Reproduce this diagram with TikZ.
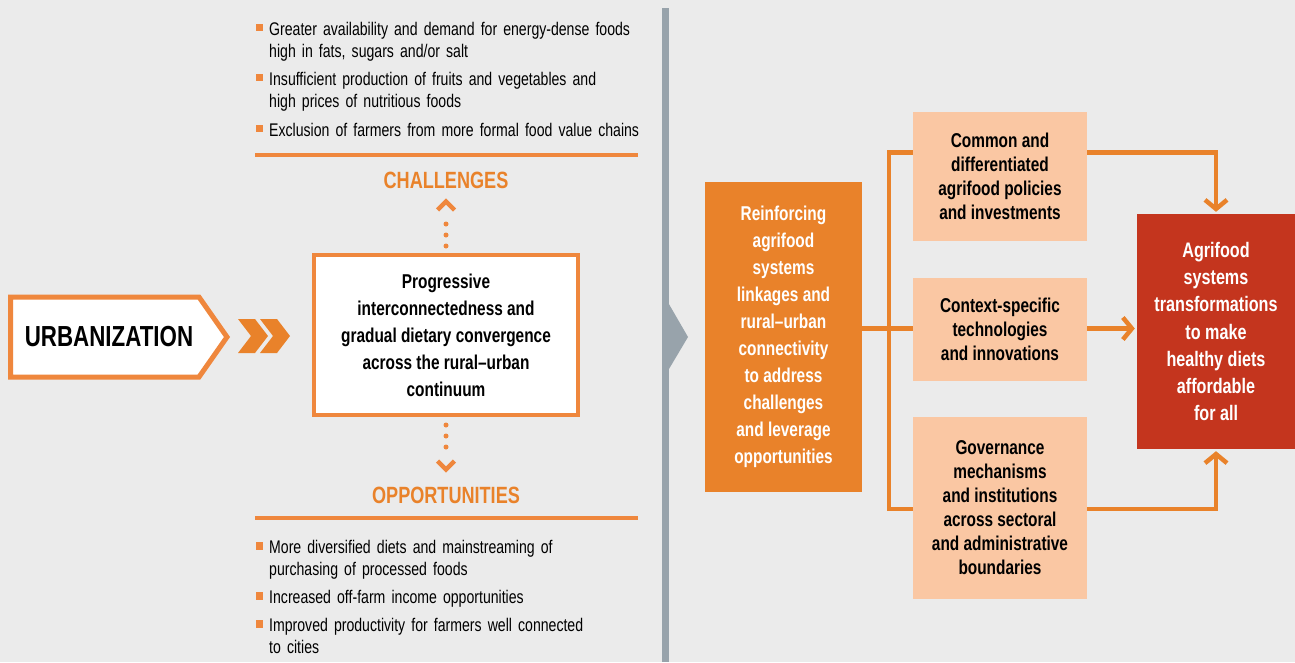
\documentclass[tikz,border=0pt]{standalone}
\usepackage{fontspec}
\setmainfont{Liberation Sans}[FakeStretch=0.77]
\usetikzlibrary{arrows.meta}
\definecolor{bg}{HTML}{EBEBEB}
\definecolor{orA}{HTML}{E9822A}
\definecolor{orB}{HTML}{EF873D}
\definecolor{peach}{HTML}{FAC7A3}
\definecolor{redbox}{HTML}{C4351E}
\definecolor{grayline}{HTML}{98A3AB}
\begin{document}
\begin{tikzpicture}[x=1pt,y=-1pt,
  bodytext/.style={font=\fontsize{18.3}{22}\selectfont, text width=400pt, align=left, inner sep=0pt, anchor=base west, text=black},
  bulletsq/.style={fill=orB, minimum size=7.5pt, inner sep=0pt},
  headtext/.style={font=\fontsize{23.5}{26}\selectfont\bfseries, text=orA, inner sep=0pt},
  boxtext/.style={font=\fontsize{20}{27}\selectfont\bfseries, align=center, inner sep=0pt},
  peachbox/.style={fill=peach, minimum width=174pt, inner sep=0pt, boxtext, font=\fontsize{20}{24}\selectfont\bfseries},
  conn/.style={draw=orA, line width=4.5pt},
  connarrow/.style={conn, -{Straight Barb[length=9pt,width=22pt]}, shorten >=2pt},
  dotline/.style={draw=orB, line width=5pt, line cap=round, dash pattern=on 0pt off 11pt},
  chev/.style={draw=orB, line width=4.5pt, miter limit=10}
]
\useasboundingbox (0,0) rectangle (1295,662);
\fill[bg] (0,0) rectangle (1295,662);

% divider
\draw[grayline, line width=6.5pt] (665.5,8) -- (665.5,662);
\fill[grayline] (666,299) -- (688,337) -- (666,374) -- cycle;

% urbanization
\filldraw[draw=orB, fill=white, line width=5pt] (10.5,297) -- (199,297) -- (227,337) -- (199,377) -- (10.5,377) -- cycle;
\node[font=\fontsize{29}{34}\selectfont\bfseries, inner sep=0pt] (urb) at (109,337) {URBANIZATION};

% double chevron
\fill[orA] (238,319) -- (255,319) -- (268,336) -- (255,353) -- (238,353) -- (251,336) -- cycle;
\fill[orA] (260,319) -- (277,319) -- (290,336) -- (277,353) -- (260,353) -- (273,336) -- cycle;

% center box
\node[draw=orB, line width=4pt, fill=white, minimum width=264pt, minimum height=160pt, boxtext] (cb) at (446,335)
  {Progressive\\interconnectedness and\\gradual dietary convergence\\across the rural--urban\\continuum};

% dotted connectors
\draw[dotline] ([yshift=7pt]cb.north) -- ++(0,-33);
\draw[chev] (437.5,210) -- (446,201.5) -- (454.5,210);
\draw[dotline] ([yshift=-8pt]cb.south) -- ++(0,33);
\draw[chev] (437.5,461) -- (446,469.5) -- (454.5,461);

\node[headtext] (chal) at (446,180) {CHALLENGES};
\node[headtext] (opp) at (446,495) {OPPORTUNITIES};

\draw[orB, line width=4pt] (255,155) -- (638,155);
\draw[orB, line width=4pt] (255,517.5) -- (638,517.5);

% challenges bullets
\node[bulletsq] (s1) at (259.5,27.5) {};
\node[bodytext] (c1) at (269,35) {Greater availability and demand for energy-dense foods\\high in fats, sugars and/or salt};
\node[bulletsq] (s2) at (259.5,77.5) {};
\node[bodytext] (c2) at (269,85) {Insufficient production of fruits and vegetables and\\high prices of nutritious foods};
\node[bulletsq] (s3) at (259.5,128.5) {};
\node[bodytext] (c3) at (269,136) {Exclusion of farmers from more formal food value chains};

% opportunities bullets
\node[bulletsq] (s4) at (259.5,546) {};
\node[bodytext] (o1) at (269,553) {More diversified diets and mainstreaming of\\purchasing of processed foods};
\node[bulletsq] (s5) at (259.5,596) {};
\node[bodytext] (o2) at (269,603) {Increased off-farm income opportunities};
\node[bulletsq] (s6) at (259.5,624) {};
\node[bodytext] (o3) at (269,631) {Improved productivity for farmers well connected\\to cities};

% right part
\node[fill=orA, text=white, minimum width=157pt, minimum height=310pt, boxtext] (ob) at (783.5,337)
  {Reinforcing\\agrifood\\systems\\linkages and\\rural--urban\\connectivity\\to address\\challenges\\and leverage\\opportunities};

\node[peachbox, minimum height=129pt] (p1) at (1000,176.5) {Common and\\differentiated\\agrifood policies\\and investments};
\node[peachbox, minimum height=103pt] (p2) at (1000,329.5) {Context-specific\\technologies\\and innovations};
\node[peachbox, minimum height=182pt] (p3) at (1000,508) {Governance\\mechanisms\\and institutions\\across sectoral\\and administrative\\boundaries};

\node[fill=redbox, text=white, minimum width=158pt, minimum height=235pt, boxtext, font=\fontsize{21}{27.2}\selectfont\bfseries] (rb) at (1216,331.5)
  {Agrifood\\systems\\transformations\\to make\\healthy diets\\affordable\\for all};

\coordinate (t1) at (889,152.5);
\coordinate (t2) at (889,328.5);
\coordinate (t3) at (889,509);

\draw[conn] (p1.west|-t1) -- (t1) -- (t3) -- (p3.west|-t3);
\draw[conn] (ob.east|-t2) -- (p2.west|-t2);
\draw[connarrow] (p1.east|-t1) -| (rb.north);
\draw[connarrow] (p2.east|-t2) -- (rb.west|-t2);
\draw[connarrow] (p3.east|-t3) -| (rb.south);
\end{tikzpicture}
\end{document}
